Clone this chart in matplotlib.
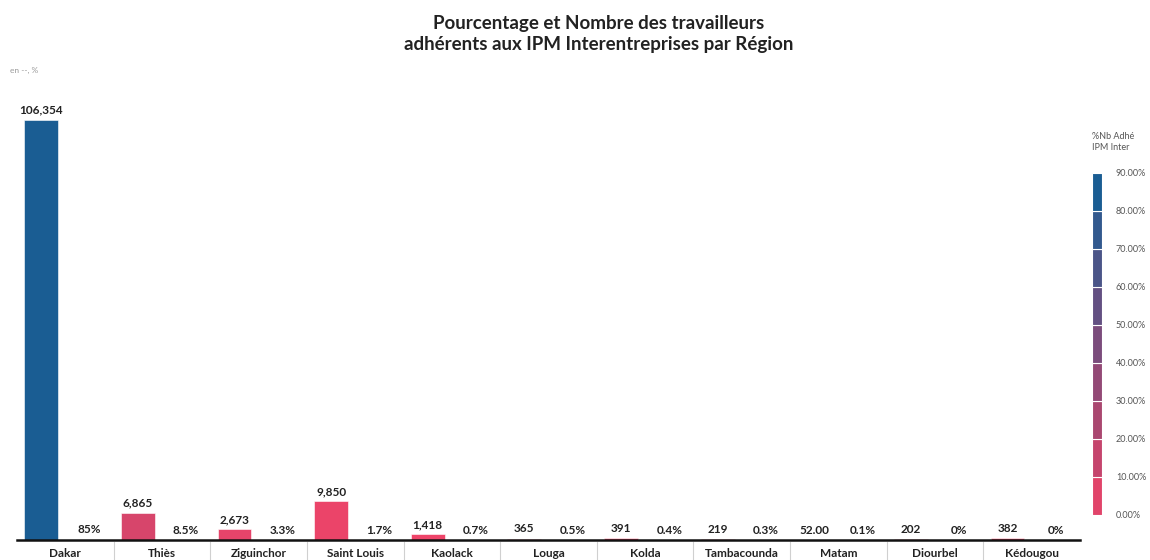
import matplotlib
matplotlib.use("Agg")
import matplotlib.pyplot as plt
import matplotlib.colors as mcolors
import matplotlib.transforms as mtransforms
import numpy as np

plt.rcParams['font.family'] = ['Lato', 'DejaVu Sans']

regions = ["Dakar", "Thiès", "Ziguinchor", "Saint Louis", "Kaolack", "Louga",
           "Kolda", "Tambacounda", "Matam", "Diourbel", "Kédougou"]
nb_adherents = [106354, 6865, 2673, 9850, 1418, 365, 391, 219, 52, 202, 382]
pct_adherents = [85, 8.5, 3.3, 1.7, 0.7, 0.5, 0.4, 0.3, 0.1, 0, 0]
cbar_ticks = [0, 10, 20, 30, 40, 50, 60, 70, 80, 90]

cmap = mcolors.LinearSegmentedColormap.from_list(
    "ipm", ["#ef4469", "#b0466f", "#7b4c7c", "#45568a", "#0e5f96"])
norm = mcolors.Normalize(vmin=0, vmax=90)

fig = plt.figure(figsize=(11.5, 5.6), dpi=100)
ax = fig.add_axes([17/1150, 20/560, 1063/1150, 440/560])

x = np.arange(len(regions))
w = 0.35
cols = [cmap(norm(p)) for p in pct_adherents]
ax.bar(x - 0.25, nb_adherents, width=w, color=cols, edgecolor="white", linewidth=0.4)
ax.bar(x + 0.25, pct_adherents, width=w, color=cols, linewidth=0)

def fmt_nb(v):
    return f"{v:.2f}" if v < 100 else f"{v:,}"

def fmt_pct(p):
    return f"{p:g}%"

for xi, v in zip(x, nb_adherents):
    ax.annotate(fmt_nb(v), (xi - 0.25, v), xytext=(0, 3), textcoords="offset points",
                ha="center", va="bottom", fontsize=8.5, fontweight="bold", color="#222222")
for xi, p in zip(x, pct_adherents):
    ax.annotate(fmt_pct(p), (xi + 0.25, p), xytext=(0, 3), textcoords="offset points",
                ha="center", va="bottom", fontsize=8.5, fontweight="bold", color="#222222")

ax.set_xlim(-0.5, len(regions) - 0.5)
ax.set_ylim(0, max(nb_adherents) * 440 / 420)
ax.set_yticks([])
ax.set_xticks(x)
ax.set_xticklabels(regions, fontsize=8.5, fontweight="bold", color="#222222")
ax.tick_params(axis="x", length=0, pad=6)
for s in ["top", "right", "left"]:
    ax.spines[s].set_visible(False)
ax.spines["bottom"].set_linewidth(1.8)
ax.spines["bottom"].set_color("#111111")

# separators between region labels
trans = mtransforms.blended_transform_factory(ax.transData, ax.transAxes)
for b in x[:-1] + 0.5:
    ax.plot([b, b], [-0.005, -0.05], color="#d0d0d0", lw=0.8, transform=trans, clip_on=False)

fig.text(599/1150, 1 - 34/560, "Pourcentage et Nombre des travailleurs\nadhérents aux IPM Interentreprises par Région",
         ha="center", va="center", fontsize=13.5, fontweight="bold", color="#222222", linespacing=1.25)
fig.text(10/1150, 1 - 70/560, "en --, %", ha="left", va="center", fontsize=6, color="#999999")

# legend colour bar
cax = fig.add_axes([1092/1150, 1 - 515/560, 10/1150, 342/560])
bounds = np.array(cbar_ticks, dtype=float)
for lo, hi in zip(bounds[:-1], bounds[1:]):
    cax.add_patch(plt.Rectangle((0, lo), 1, hi - lo, facecolor=cmap(norm((lo + hi) / 2)),
                                edgecolor="white", linewidth=0.8))
cax.set_xlim(0, 1)
cax.set_ylim(0, 90)
cax.set_xticks([])
cax.yaxis.tick_right()
cax.set_yticks(cbar_ticks)
cax.set_yticklabels([f"{t:.2f}%" for t in cbar_ticks], fontsize=6.5, color="#555555")
cax.tick_params(axis="y", length=0, pad=10)
for s in cax.spines.values():
    s.set_visible(False)
fig.text(1092/1150, 1 - 142/560, "%Nb Adhé\nIPM Inter", ha="left", va="center",
         fontsize=6.5, color="#555555", linespacing=1.3)

fig.savefig("out.png", dpi=100)
